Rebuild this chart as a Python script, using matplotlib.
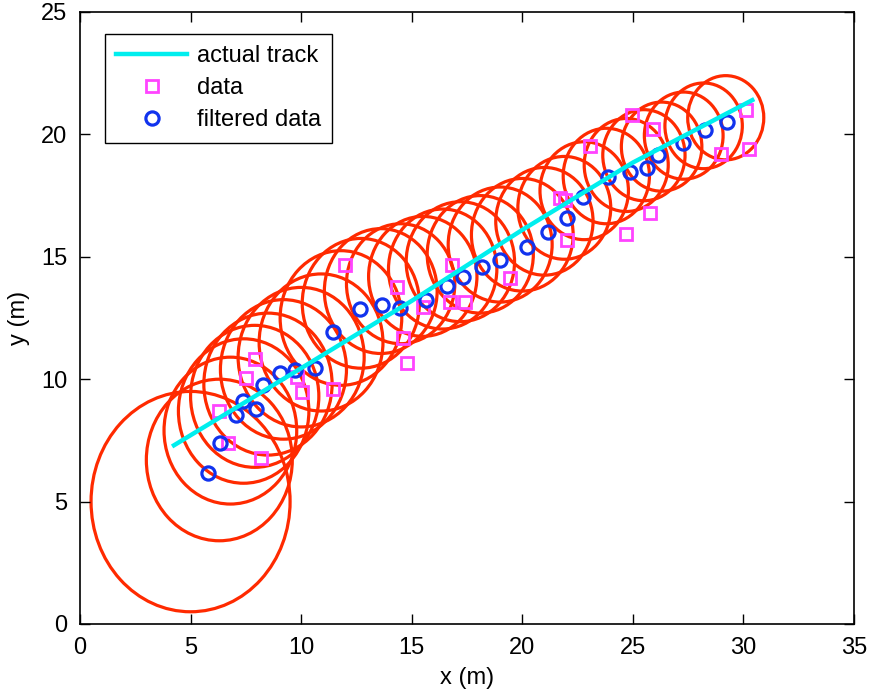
import matplotlib
matplotlib.use('Agg')
import matplotlib.pyplot as plt
from matplotlib.patches import Ellipse

plt.rcParams['font.family'] = ['Liberation Sans', 'DejaVu Sans']

# actual track
track_x = [4.25, 10.0, 15.0, 20.0, 25.0, 30.4]
track_y = [7.3, 10.45, 13.2, 16.1, 18.85, 21.4]

# raw measurements
data_x = [6.29, 6.69, 7.51, 7.92, 8.19, 9.81, 10.04, 11.44, 11.99, 14.34,
          14.61, 14.79, 15.51, 16.73, 16.82, 17.41, 19.45, 21.71, 21.95, 22.03,
          23.07, 24.69, 24.97, 25.78, 25.92, 28.99, 30.12, 30.26]
data_y = [8.70, 7.39, 10.05, 10.83, 6.78, 10.09, 9.48, 9.60, 14.67, 13.77,
          11.68, 10.66, 12.95, 13.15, 14.67, 13.15, 14.13, 17.40, 17.30, 15.69,
          19.53, 15.93, 20.79, 16.79, 20.22, 19.20, 21.00, 19.40]

# filtered estimates
filt_x = [5.79, 6.33, 7.06, 7.37, 7.96, 8.28, 9.05, 9.72, 10.63, 11.44,
          12.66, 13.66, 14.47, 15.65, 16.60, 17.32, 18.18, 19.00, 20.22, 21.17,
          22.03, 22.75, 23.88, 24.88, 25.64, 26.14, 27.27, 28.27, 29.26]
filt_y = [6.17, 7.39, 8.54, 9.11, 8.78, 9.76, 10.25, 10.38, 10.46, 11.93,
          12.87, 13.03, 12.91, 13.24, 13.81, 14.17, 14.58, 14.87, 15.40, 16.01,
          16.58, 17.44, 18.26, 18.46, 18.63, 19.16, 19.65, 20.18, 20.51]

# uncertainty circles (centre and radius)
ell_x = [5.0, 6.3, 6.8, 7.4, 7.9, 8.5, 9.2, 10.0, 10.9, 11.8,
         12.7, 13.6, 14.5, 15.5, 16.4, 17.2, 18.1, 19.0, 20.0, 21.0,
         21.9, 22.8, 23.8, 24.7, 25.5, 26.3, 27.3, 28.2, 29.2]
ell_y = [5.0, 6.7, 7.9, 8.7, 9.3, 9.8, 10.4, 10.9, 11.5, 12.5,
         13.1, 13.6, 13.9, 14.2, 14.5, 14.8, 15.1, 15.5, 15.9, 16.45,
         17.0, 17.7, 18.3, 18.75, 19.15, 19.5, 19.95, 20.35, 20.68]
ell_r = [4.5, 3.3, 3.0, 2.95, 2.9, 2.9, 2.85, 2.85, 2.8, 2.75,
         2.65, 2.55, 2.45, 2.45, 2.45, 2.45, 2.4, 2.35, 2.3, 2.2,
         2.1, 2.0, 1.95, 1.9, 1.86, 1.82, 1.78, 1.75, 1.72]

fig = plt.figure(figsize=(8.74, 6.92), dpi=100)
ax = fig.add_axes([80 / 874, 68 / 692, 774 / 874, 612 / 692])

for cx, cy, r in zip(ell_x, ell_y, ell_r):
    ax.add_patch(Ellipse((cx, cy), 2 * r, 2 * r, fill=False,
                         edgecolor='#ff2a00', linewidth=2.3, zorder=1))

ax.plot(data_x, data_y, 's', markersize=8.5, markeredgewidth=2,
        markerfacecolor='none', markeredgecolor='#ff44ff', label='data', zorder=2)
ax.plot(filt_x, filt_y, 'o', markersize=9.5, markeredgewidth=2.3,
        markerfacecolor='none', markeredgecolor='#1133ee', label='filtered data', zorder=3)
ax.plot(track_x, track_y, '-', color='#00eeee', linewidth=3.2,
        label='actual track', zorder=4)

ax.set_xlim(0, 35)
ax.set_ylim(0, 25)
ax.set_xticks(range(0, 36, 5))
ax.set_yticks(range(0, 26, 5))
ax.tick_params(direction='in', top=True, right=True, length=7, width=1,
               labelsize=17, pad=9)
for s in ax.spines.values():
    s.set_linewidth(1.2)
ax.set_xlabel('x (m)', fontsize=17, labelpad=6)
ax.set_ylabel('y (m)', fontsize=17, labelpad=8)

handles, labels = ax.get_legend_handles_labels()
order = [2, 0, 1]
leg = ax.legend([handles[i] for i in order], [labels[i] for i in order],
                loc='upper left', bbox_to_anchor=(25 / 774, 590 / 612),
                borderaxespad=0, fontsize=17, handlelength=3.0,
                handletextpad=0.4, labelspacing=0.42, borderpad=0.48,
                fancybox=False, edgecolor='black', framealpha=1)
leg.get_frame().set_linewidth(1.0)

fig.savefig('out.png', dpi=100)
